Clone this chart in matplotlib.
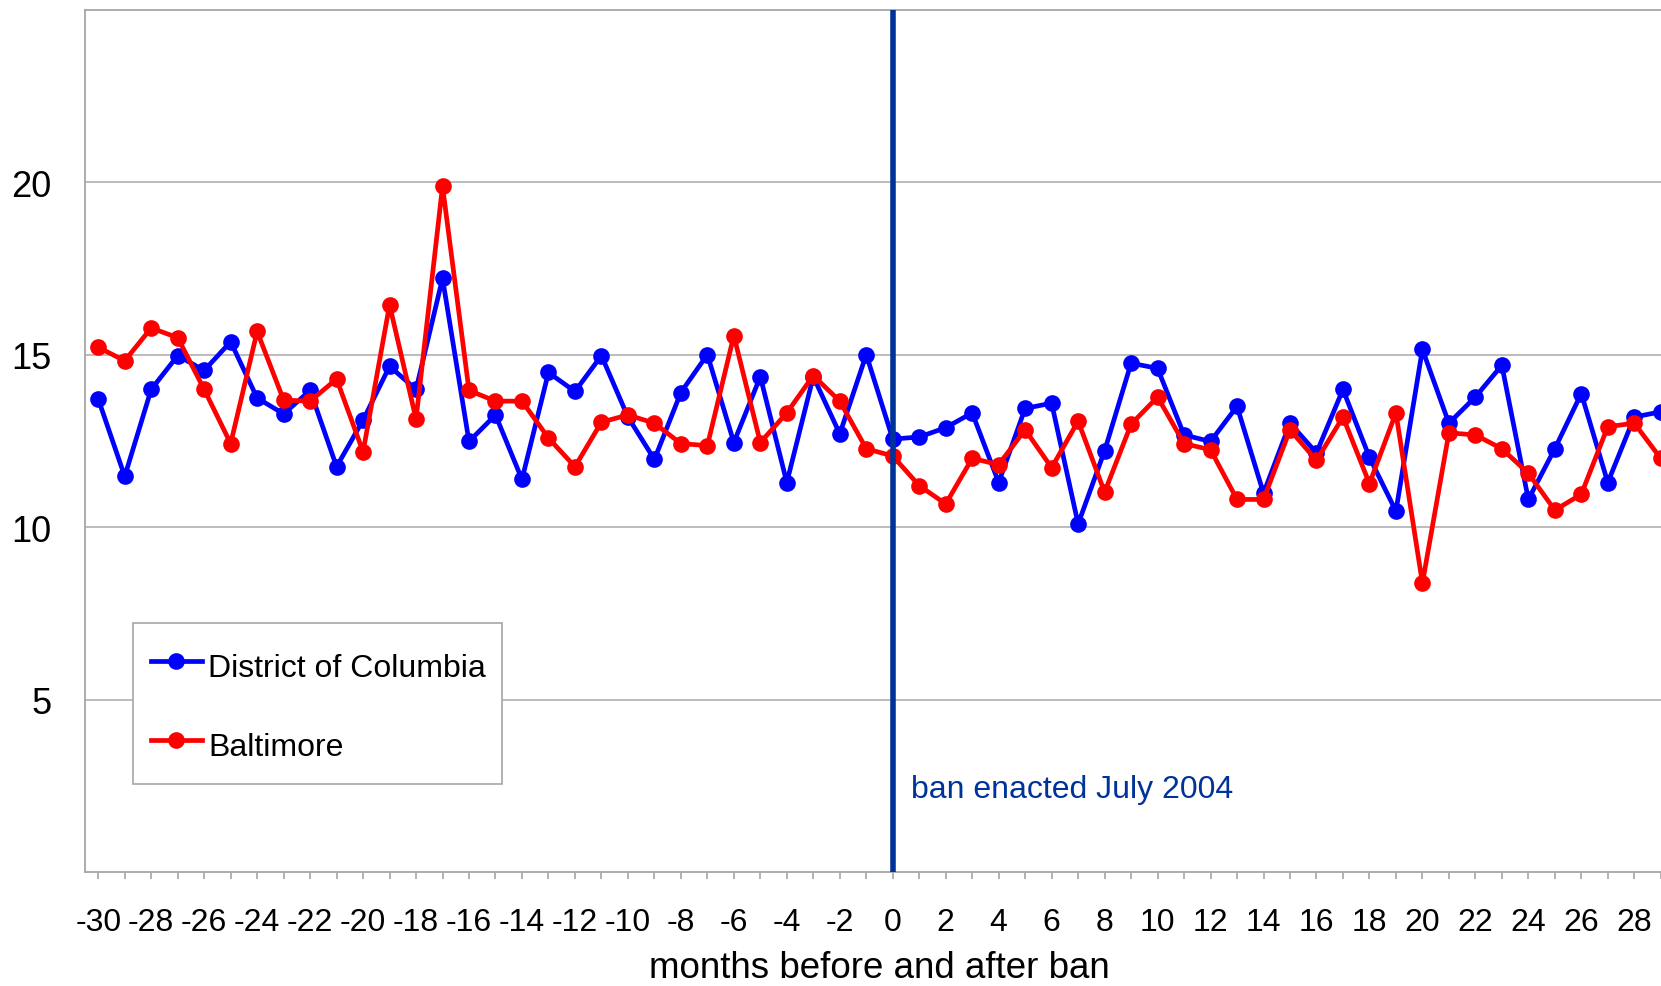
import matplotlib
matplotlib.use("Agg")
import matplotlib.pyplot as plt
from matplotlib.patches import Rectangle

plt.rcParams['font.family'] = ['Liberation Sans', 'DejaVu Sans']

# months relative to the ban (July 2004)
months = list(range(-30, 30))

dc_values = [
    13.71, 11.47, 13.99, 14.97, 14.54, 15.37, 13.74, 13.28, 13.96, 11.75,
    13.10, 14.66, 13.99, 17.21, 12.48, 13.25, 11.38, 14.48, 13.93, 14.97,
    13.19, 11.96, 13.90, 15.00, 12.45, 14.36, 11.29, 14.36, 12.70, 15.00,
    12.55, 12.61, 12.88, 13.31, 11.29, 13.44, 13.59, 10.09, 12.21, 14.75,
    14.60, 12.67, 12.48, 13.50, 10.98, 13.01, 12.15, 13.99, 12.02, 10.46,
    15.15, 13.01, 13.77, 14.69, 10.80, 12.27, 13.87, 11.29, 13.19, 13.34,
]

baltimore_values = [
    15.21, 14.82, 15.77, 15.49, 13.99, 12.42, 15.67, 13.68, 13.65, 14.29,
    12.18, 16.44, 13.13, 19.88, 13.96, 13.65, 13.65, 12.58, 11.75, 13.04,
    13.25, 13.01, 12.42, 12.36, 15.55, 12.45, 13.31, 14.39, 13.65, 12.27,
    12.06, 11.20, 10.67, 11.99, 11.81, 12.82, 11.72, 13.07, 11.01, 12.98,
    13.77, 12.42, 12.24, 10.80, 10.80, 12.82, 11.93, 13.19, 11.26, 13.31,
    8.37, 12.73, 12.67, 12.27, 11.56, 10.49, 10.95, 12.91, 13.01, 11.99,
]

x_labels = [str(m) if m % 2 == 0 else '' for m in months]
y_ticks = [5, 10, 15, 20]
ban_month = 0

FS = 23
W, H = 1661, 987

fig = plt.figure(figsize=(W / 100, H / 100), dpi=100)
# axes runs a little past the right edge of the picture, as in the original
ax = fig.add_axes([85 / W, 1 - 873 / H, (1674 - 85) / W, (873 - 10.6) / H])

ax.plot(months, dc_values, color='#0000ff', lw=3.4, marker='o', ms=12,
        mew=0, label='District of Columbia', zorder=3)
ax.plot(months, baltimore_values, color='#ff0000', lw=3.4, marker='o', ms=12,
        mew=0, label='Baltimore', zorder=4)

ax.axvline(ban_month, color='#003399', lw=4, zorder=5)
ax.text(0.7, 2.4, 'ban enacted July 2004', color='#003399', fontsize=FS,
        va='center', ha='left')

ax.set_xlim(-30.5, 29.5)
ax.set_ylim(0, 25)
ax.set_yticks(y_ticks)
ax.set_yticklabels([str(v) for v in y_ticks])
ax.set_xticks(months)
ax.set_xticklabels(x_labels)

ax.tick_params(axis='y', length=0, pad=24, labelsize=26)
ax.tick_params(axis='x', length=5, width=1.2, color='#a6a6a6', pad=20,
               labelsize=FS)

ax.grid(axis='y', color='#b0b0b0', lw=1.2)
ax.set_axisbelow(True)
for s in ax.spines.values():
    s.set_color('#a6a6a6')
    s.set_linewidth(1.3)

ax.set_xlabel('months before and after ban', fontsize=26.5)
ax.xaxis.label.set_va('bottom')
ax.xaxis.set_label_coords(0.5, -113 / 862.4)

# legend box drawn by hand (taller than matplotlib's padding gives)
box = Rectangle((133 / W, 1 - 785 / H), (502 - 133) / W, (785 - 624) / H,
                transform=fig.transFigure, facecolor='white',
                edgecolor='#a6a6a6', lw=1.2, zorder=6, clip_on=False)
ax.add_patch(box)

leg = ax.legend(loc='upper left', bbox_to_anchor=(133 / W, 1 - 629.5 / H),
                bbox_transform=fig.transFigure, borderaxespad=0,
                fontsize=FS, frameon=False, borderpad=0.55,
                labelspacing=1.26, handlelength=1.6, handleheight=1.5,
                handletextpad=0.2)
leg.set_zorder(7)

fig.savefig('out.png', dpi=100)
